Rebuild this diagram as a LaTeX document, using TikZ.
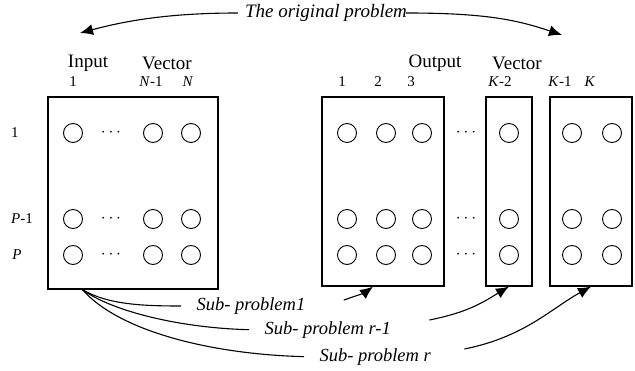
\documentclass[tikz,border=0pt]{standalone}
\usepackage{fontspec}
\setmainfont{Liberation Serif}
\usetikzlibrary{arrows.meta}

\tikzset{
  unit/.style={circle, draw, line width=0.9pt, minimum size=19pt, inner sep=0pt},
  vecbox/.style={draw, line width=1.2pt, inner sep=0pt},
  gap/.style={font=\fontsize{18}{18}\selectfont},
  head/.style={font=\fontsize{19}{19}\selectfont},
  idx/.style={font=\fontsize{15}{15}\selectfont},
  sub/.style={font=\fontsize{18.5}{18.5}\selectfont\itshape, anchor=west},
  link/.style={line width=1.1pt},
  pointer/.style={link, -{Latex[length=13pt,width=11pt]}},
}

\begin{document}
\begin{tikzpicture}[x=1pt,y=-1pt]
\useasboundingbox (0,0) rectangle (635,371);
% the input and output vectors
\node[vecbox, minimum width=170pt, minimum height=192pt] (inbox) at (133,193) {};
\node[vecbox, minimum width=122pt, minimum height=189pt] (outA) at (383,191.5) {};
\node[vecbox, minimum width=46pt, minimum height=189pt] (outB) at (509,191.5) {};
\node[vecbox, minimum width=82pt, minimum height=189pt] (outC) at (591,191.5) {};
% units, one row per pattern
\foreach \r/\y in {1/133, p1/219, p/255} {
  \foreach \c/\x in {1/73, n1/153, n/191}
    \node[unit] (in-\r-\c) at (\x,\y) {};
  \node[gap] (in-\r-dots) at (111,\y) {$\cdots$};
  \foreach \c/\x in {1/347, 2/386, 3/422, k2/509, k1/572, k/612}
    \node[unit] (out-\r-\c) at (\x,\y) {};
  \node[gap] (out-\r-dots) at (466,\y) {$\cdots$};
}
% row labels
\node[idx] (row-1) at (15,133) {1};
\node[idx] (row-p1) at (22,219) {\textit{P}-1};
\node[idx] (row-p) at (17,255) {\textit{P}};
% column labels
\node[head] (inlab) at (88,63) {Input};
\node[head] (invec) at (167,63) {Vector};
\node[idx] (col-1) at (73,82) {1};
\node[idx] (col-n1) at (151,82) {\textit{N}-1};
\node[idx] (col-n) at (188,82) {\textit{N}};
\node[head] (outlab) at (435,63) {Output};
\node[head] (outvec) at (517,63) {Vector};
\node[idx] (ocol-1) at (342,82) {1};
\node[idx] (ocol-2) at (378,82) {2};
\node[idx] (ocol-3) at (411,82) {3};
\node[idx] (ocol-k2) at (500,82) {\textit{K}-2};
\node[idx] (ocol-k1) at (560,82) {\textit{K}-1};
\node[idx] (ocol-k) at (590,82) {\textit{K}};
% the whole problem
\node[font=\fontsize{19}{19}\selectfont\itshape, inner sep=7pt] (orig) at (326,13) {The original problem};
\coordinate (inTop) at (80,33);
\coordinate (outTop) at (562,35);
\draw[pointer] (orig.west) .. controls +(-70,0) and +(45,-12) .. (inTop);
\draw[pointer] ([xshift=-8pt]orig.east) .. controls +(80,0) and +(-45,-15) .. (outTop);
% sub-problems
\node[sub] (sp1) at (193,306) {Sub- problem1};
\node[sub] (sp2) at (261,330) {Sub- problem r-1};
\node[sub] (sp3) at (316,357) {Sub- problem r};
\coordinate (split) at ([xshift=35pt]inbox.south west);
\draw[link, shorten >=12pt] (split) .. controls +(25,15) and +(-50,0) .. (sp1.west);
\draw[link, shorten >=12pt] (split) .. controls +(30,22) and +(-80,-2) .. (sp2.west);
\draw[link, shorten >=12pt] (split) .. controls +(35,40) and +(-110,-3) .. (sp3.west);
\coordinate (tail1) at ([shift={(35,-6)}]sp1.east);
\coordinate (tail2) at ([shift={(35,-10)}]sp2.east);
\coordinate (tail3) at ([shift={(30,-8)}]sp3.east);
\draw[pointer] (tail1) .. controls +(12,-4) and +(-8,6) .. ([xshift=-10pt]outA.south);
\draw[pointer] (tail2) .. controls +(40,-8) and +(-25,15) .. (outB.south);
\draw[pointer] (tail3) .. controls +(60,-12) and +(-40,22) .. (outC.south);
\end{tikzpicture}
\end{document}
